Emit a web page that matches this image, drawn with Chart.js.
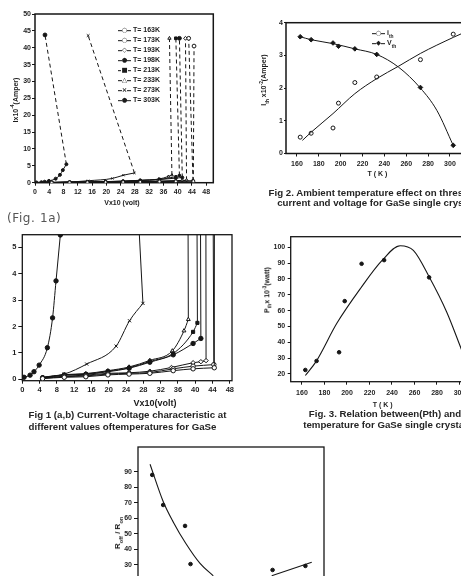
<!DOCTYPE html>
<html lang="en">
<head>
<meta charset="UTF-8">
<title>GaSe switching figures</title>
<script src="https://cdn.jsdelivr.net/npm/chart.js@4"></script>
<style>
  html, body { margin: 0; padding: 0; background: #fff; }
  body { width: 461px; height: 576px; overflow: hidden; position: relative;
         font-family: "Liberation Sans", Arial, sans-serif; color: #1c1c1c; }
  canvas { position: absolute; left: 0; top: 0; }
  .t { position: absolute; white-space: nowrap; line-height: 1; }
  .c { transform: translate(-50%, -50%); }
  .l { transform: translateY(-50%); }
  .r { transform: translate(-50%, -50%) rotate(-90deg); }
  .cap { font-weight: bold; font-size: 9.7px; color: #252525; }
  .ax { font-weight: bold; font-size: 7px; }
  .lg { font-weight: bold; font-size: 7px; }
  sub, sup { font-size: 70%; line-height: 0; }
  .mk { display: inline-block; width: 13px; height: 7px; line-height: 7px; vertical-align: middle;
        margin-right: 2px; text-align: center; font-family: "DejaVu Sans"; font-size: 6.5px;
        background: linear-gradient(#161616, #161616) no-repeat center / 100% 1px; }
  .mk span { background: #fff; }
</style>
</head>
<body>
<canvas id="fig1a"></canvas>
<canvas id="fig1b"></canvas>
<canvas id="fig2"></canvas>
<canvas id="fig3"></canvas>
<canvas id="fig4"></canvas>

<script>
// ---- Fig 1 (a,b): I x10^-4 (A) against V x10 (volt), one curve per temperature
const f1Labels = ['T= 163K', 'T= 173K', 'T= 193K', 'T= 198K', 'T= 213K', 'T= 233K', 'T= 273K', 'T= 303K'];

const v163 = [4.7, 9.7, 14.7, 19.8, 24.7, 29.5, 34.9, 39.5, 44.4];
const i163 = [0.03, 0.08, 0.10, 0.17, 0.20, 0.23, 0.33, 0.40, 0.44];
const v173 = [4.7, 9.7, 14.7, 19.8, 24.7, 29.5, 34.9, 39.5, 44.3];
const i173 = [0.04, 0.10, 0.13, 0.20, 0.23, 0.26, 0.40, 0.50, 0.56];
const v193 = [4.7, 9.7, 14.7, 19.8, 24.7, 29.5, 34.5, 39.5, 41.3, 42.5];
const i193 = [0.05, 0.12, 0.16, 0.23, 0.25, 0.31, 0.45, 0.63, 0.67, 0.71];
const v198 = [4.7, 9.7, 14.7, 19.8, 24.7, 29.5, 34.9, 39.5, 41.3];
const i198 = [0.06, 0.16, 0.19, 0.29, 0.42, 0.65, 0.93, 1.36, 1.55];
const v213 = [4.7, 9.7, 14.7, 19.8, 24.7, 29.5, 34.9, 39.5, 40.5];
const i213 = [0.07, 0.17, 0.20, 0.31, 0.44, 0.68, 0.98, 1.80, 2.14];
const v233 = [4.7, 9.7, 14.7, 19.8, 24.7, 29.5, 34.7, 37.4, 38.4];
const i233 = [0.08, 0.18, 0.22, 0.33, 0.47, 0.72, 1.08, 1.84, 2.27];
const v273 = [4.7, 9.7, 14.9, 21.7, 24.8, 27.9];
const i273 = [0.07, 0.20, 0.58, 1.26, 2.22, 2.88];
const v303 = [0.4, 1.8, 2.7, 3.9, 5.8, 7.0, 7.8, 8.8];
const i303 = [0.08, 0.16, 0.29, 0.54, 1.20, 2.33, 3.73, 5.47];

// where each switching (dashed) branch ends in Fig 1a
const jumpV = [44.6, 43.1, 42.2, 40.5, 39.5, 37.7, 14.9, 2.8];
const jumpI = [40.5, 42.8, 42.8, 42.8, 42.8, 42.8, 43.6, 43.8];

const f1V = [v163, v173, v193, v198, v213, v233, v273, v303];
const f1I = [i163, i173, i193, i198, i213, i233, i273, i303];
const f1Shape = ['circle', 'circle', 'rectRot', 'circle', 'rect', 'triangle', 'crossRot', 'circle'];
const f1Fill = [false, false, false, true, true, false, true, true];
const f1Glyph = ['○', '○', '◇', '●', '■', '△', '×', '●'];

const f1XTicks = [0, 4, 8, 12, 16, 20, 24, 28, 32, 36, 40, 44, 48];
const f1aYTicks = [0, 5, 10, 15, 20, 25, 30, 35, 40, 45, 50];
const f1bYTicks = [0, 1, 2, 3, 4, 5];

// ---- Fig 2: threshold current / voltage against T (K)
const f2T = [163, 173, 193, 198, 213, 233, 273, 303];
const f2Ith = [0.50, 0.62, 0.78, 1.54, 2.17, 2.34, 2.87, 3.65];
const f2Vth = [3.57, 3.48, 3.38, 3.28, 3.20, 3.03, 2.02, 0.25];
const f2IfitT = [165, 173, 193, 213, 233, 253, 273, 303, 311];
const f2IfitV = [0.40, 0.65, 1.22, 1.83, 2.29, 2.67, 3.06, 3.55, 3.67];
const f2VfitT = [163, 173, 193, 213, 233, 253, 273, 288, 303];
const f2VfitV = [3.57, 3.48, 3.36, 3.20, 3.03, 2.64, 2.00, 1.32, 0.25];
const f2XTicks = [160, 180, 200, 220, 240, 260, 280, 300];
const f2YTicks = [0, 1, 2, 3, 4];

// ---- Fig 3: Pth x10^-3 (watt) against T (K)
const f3T = [163, 173, 193, 198, 213, 233, 273];
const f3P = [22.5, 28.2, 33.7, 66.0, 89.6, 91.9, 81.0];
const f3fitT = [163, 172.5, 191, 212, 231.6, 247.3, 259, 273, 288.7, 302];
const f3fitP = [19.0, 27.8, 52.0, 74.0, 92.0, 101.0, 98.0, 81.4, 59.0, 35.0];
const f3XTicks = [160, 180, 200, 220, 240, 260, 280, 300];
const f3YTicks = [20, 30, 40, 50, 60, 70, 80, 90, 100];

// ---- Fig 4: Roff / Ron against T (K)
const f4T = [163, 173, 193, 198, 273, 303];
const f4R = [88.1, 68.7, 55.2, 30.6, 26.8, 29.4];
const f4fitT = [161, 173.1, 182.3, 193.6, 206.7, 218.8];
const f4fitR = [95.0, 70.8, 57.6, 44.0, 31.0, 23.0];
const f4lineT = [272.2, 308.8];
const f4lineR = [23.0, 31.8];
const f4XTicks = [160, 180, 200, 220, 240, 260, 280, 300];
const f4YTicks = [20, 30, 40, 50, 60, 70, 80, 90];

const ink = '#161616';
const CW = 520, CH = 640;

function pts(xs, ys) { return xs.map((x, k) => ({ x: x, y: ys[k] })); }

// box outline around the plot area
const framePlugin = {
  id: 'frame',
  beforeDatasetsDraw(chart, args, opts) {
    const a = chart.chartArea, c = chart.ctx;
    c.save();
    c.strokeStyle = ink;
    c.lineWidth = opts.width || 1.3;
    c.strokeRect(a.left, a.top, a.right - a.left, a.bottom - a.top);
    c.restore();
  }
};

function axis(a, dir) {
  return {
    type: 'linear', min: a.min, max: a.max,
    afterBuildTicks: s => { s.ticks = a.ticks.map(v => ({ value: v })); },
    afterFit: s => { if (dir === 'x') s.height = 20; else s.width = 20; },
    border: { display: false },
    grid: { drawOnChartArea: false, drawTicks: true, tickLength: a.tl, color: ink, lineWidth: 1 },
    ticks: {
      padding: a.pad, color: '#1f1f1f', autoSkip: false, maxRotation: 0, minRotation: 0,
      font: { family: 'Liberation Sans', size: a.fs || 7, weight: 'bold' },
      callback: v => String(v)
    }
  };
}

function makeChart(id, box, x, y, datasets) {
  const cv = document.getElementById(id);
  cv.width = CW; cv.height = CH;
  return new Chart(cv, {
    type: 'scatter',
    data: { datasets: datasets },
    options: {
      responsive: false, animation: false, events: [],
      layout: {
        autoPadding: false,
        padding: { left: box.l - 20, top: box.t, right: CW - box.r, bottom: CH - box.b - 20 }
      },
      plugins: { legend: { display: false }, tooltip: { enabled: false }, frame: { width: box.lw } },
      scales: { x: axis(x, 'x'), y: axis(y, 'y') }
    },
    plugins: [framePlugin]
  });
}

function fig1Sets(radius, dashed) {
  const out = [];
  f1V.forEach((V, k) => {
    const I = f1I[k];
    const last = V.length - 1;
    const style = {
      pointStyle: f1Shape[k], pointBorderColor: ink, pointBorderWidth: 1,
      pointBackgroundColor: f1Fill[k] ? ink : '#fff', borderColor: ink
    };
    out.push(Object.assign({
      data: pts(V, I), showLine: true, borderWidth: 1,
      cubicInterpolationMode: 'monotone', pointRadius: radius
    }, style));
    out.push(Object.assign({
      data: [{ x: V[last], y: I[last] }, { x: jumpV[k], y: jumpI[k] }],
      showLine: true, borderWidth: 1, borderDash: dashed ? [4, 3] : [],
      pointRadius: [0, radius + 0.4]
    }, style));
  });
  return out;
}

makeChart('fig1a', { l: 35, t: 14, r: 213.3, b: 182.7, lw: 1.5 },
  { min: 0, max: 50, ticks: f1XTicks, tl: 3, pad: 2 },
  { min: 0, max: 50, ticks: f1aYTicks, tl: 3, pad: 1 },
  fig1Sets(1.5, true));

makeChart('fig1b', { l: 22.3, t: 234.7, r: 232, b: 380.7, lw: 1.3 },
  { min: 0, max: 48.5, ticks: f1XTicks, tl: 3, pad: 1.5, fs: 7.5 },
  { min: -0.05, max: 5.48, ticks: f1bYTicks, tl: 4, pad: 2, fs: 7.5 },
  fig1Sets(2.2, false));

makeChart('fig2', { l: 286, t: 22.7, r: 471.8, b: 153.5, lw: 1.5 },
  { min: 150, max: 320, ticks: f2XTicks, tl: 3, pad: 3 },
  { min: 0, max: 4, ticks: f2YTicks, tl: 2, pad: 1 },
  [
    { data: pts(f2IfitT, f2IfitV), showLine: true, borderColor: ink, borderWidth: 1,
      cubicInterpolationMode: 'monotone', pointRadius: 0 },
    { data: pts(f2VfitT, f2VfitV), showLine: true, borderColor: ink, borderWidth: 1,
      cubicInterpolationMode: 'monotone', pointRadius: 0 },
    { data: pts(f2T, f2Ith), pointStyle: 'circle', pointRadius: 2, pointBorderWidth: 1,
      pointBorderColor: ink, pointBackgroundColor: '#fff' },
    { data: pts(f2T, f2Vth), pointStyle: 'rectRot', pointRadius: 2.3, pointBorderWidth: 1,
      pointBorderColor: ink, pointBackgroundColor: ink }
  ]);

makeChart('fig3', { l: 290.7, t: 236.7, r: 482, b: 381.7, lw: 1.3 },
  { min: 150, max: 320, ticks: f3XTicks, tl: 3, pad: 4.4 },
  { min: 15.1, max: 106.7, ticks: f3YTicks, tl: 3, pad: 2.5 },
  [
    { data: pts(f3fitT, f3fitP), showLine: true, borderColor: ink, borderWidth: 1.1,
      cubicInterpolationMode: 'monotone', pointRadius: 0 },
    { data: pts(f3T, f3P), pointRadius: 1.8, pointBorderWidth: 1,
      pointBorderColor: ink, pointBackgroundColor: ink }
  ]);

makeChart('fig4', { l: 138, t: 447, r: 324, b: 596, lw: 1.3 },
  { min: 150, max: 320, ticks: f4XTicks, tl: 3, pad: 3 },
  { min: 10, max: 106.1, ticks: f4YTicks, tl: 4, pad: 2 },
  [
    { data: pts(f4fitT, f4fitR), showLine: true, borderColor: ink, borderWidth: 1.1,
      cubicInterpolationMode: 'monotone', pointRadius: 0 },
    { data: pts(f4lineT, f4lineR), showLine: true, borderColor: ink, borderWidth: 1.1,
      pointRadius: 0 },
    { data: pts(f4T, f4R), pointRadius: 1.8, pointBorderWidth: 1,
      pointBorderColor: ink, pointBackgroundColor: ink }
  ]);

// ---- text: titles, legends, captions
function put(html, x, y, cls, extra) {
  const d = document.createElement('div');
  d.className = 't ' + cls;
  d.innerHTML = html;
  d.style.left = x + 'px';
  d.style.top = y + 'px';
  if (extra) d.style.cssText += extra;
  document.body.appendChild(d);
}

f1Labels.forEach((lab, k) => {
  put('<span class="mk"><span>' + f1Glyph[k] + '</span></span>' + lab, 118, 30 + k * 10, 'l lg');
});
put('<span class="mk"><span>○</span></span>i<sub>th</sub>', 372, 33.3, 'l lg');
put('<span class="mk"><span>◆</span></span>V<sub>th</sub>', 372, 43.3, 'l lg');

put('Ix10<sup>-4</sup>(Amper)', 15, 100, 'r ax');
put('Vx10 (volt)', 122, 202, 'c ax');
put('(Fig. 1a)', 7, 218, 'l', 'font-family:"DejaVu Sans";font-size:12px;letter-spacing:0.6px;color:#555;');
put('Vx10(volt)', 155, 403.3, 'c ax', 'font-size:9px;');

put('I<sub>th</sub> x10<sup>-2</sup>(Amper)', 264, 80, 'r ax');
put('T ( K )', 377.5, 172.7, 'c ax');
put('P<sub>th</sub>x 10<sup>-3</sup>(watt)', 267, 290, 'r ax');
put('T ( K )', 382.7, 404, 'c ax');
put('R<sub>off</sub> / R<sub>on</sub>', 118, 533, 'r ax', 'font-size:8px;');

put('Fig 1 (a,b) Current-Voltage characteristic at', 127.5, 415, 'c cap');
put('different values oftemperatures for GaSe', 122.5, 427, 'c cap');
put('Fig 2. Ambient temperature effect on threshold', 376, 193, 'c cap');
put('current and voltage for GaSe single crystal', 376, 203, 'c cap');
put('Fig. 3. Relation between(Pth) and', 385, 414, 'c cap');
put('temperature for GaSe single crystal', 385, 425.3, 'c cap');
</script>
</body>
</html>
